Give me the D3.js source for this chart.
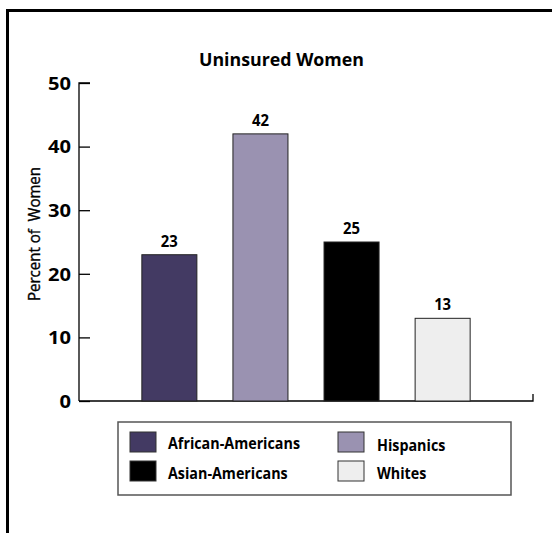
<!DOCTYPE html>
<html>
<head>
<meta charset="utf-8">
<script src="https://cdn.jsdelivr.net/npm/d3@7"></script>
<style>
  html, body { margin: 0; padding: 0; background: #fff; }
  svg { display: block; }
  text { font-family: "Open Sans", "Noto Sans", sans-serif; fill: #000; white-space: pre; }
</style>
</head>
<body>
<svg id="chart" width="552" height="533"></svg>
<script>
// Share of women without health insurance, by group
const categories = ["African-Americans", "Hispanics", "Asian-Americans", "Whites"];
const values = [23, 42, 25, 13];
const colors = ["#433a63", "#9a92b1", "#000000", "#eeeeee"];
const yTicks = [0, 10, 20, 30, 40, 50];
const title = "Uninsured Women";
const yLabel = "Percent of  Women";

const svg = d3.select("#chart");

// Condense a group of labels horizontally: the first label is set to
// `width` px and the rest are narrowed by the same ratio.
function condense(sel, width) {
  const nodes = sel.nodes();
  const k = width / nodes[0].getComputedTextLength();
  nodes.forEach(n => {
    d3.select(n)
      .attr("textLength", n.getComputedTextLength() * k)
      .attr("lengthAdjust", "spacingAndGlyphs");
  });
}

// Outer frame (runs off the right and bottom edges)
svg.append("rect")
  .attr("x", 7.5).attr("y", 10.5)
  .attr("width", 600).attr("height", 600)
  .attr("fill", "none").attr("stroke", "#000").attr("stroke-width", 3);

const x0 = 79, x1 = 533, yTop = 83, yBase = 401;

const y = d3.scaleLinear().domain([0, 50]).range([yBase, yTop]);
const x = d3.scaleBand().domain(categories).range([x0, x1])
  .paddingInner(0.396).paddingOuter(0.69);

// Title
svg.append("text")
  .attr("x", 281.5).attr("y", 66)
  .attr("text-anchor", "middle")
  .attr("font-size", 18).attr("font-weight", 700)
  .text(title).call(condense, 165);

// Y axis with ticks pointing into the plot
const yAxis = d3.axisRight(y).tickValues(yTicks).tickSize(11).tickFormat("");
const gy = svg.append("g").attr("transform", `translate(${x0},0)`).call(yAxis);
gy.select(".domain").attr("d", `M11,${yTop}H0V${yBase}`).attr("stroke", "#000").attr("stroke-width", 1.3);
gy.selectAll(".tick line").attr("stroke", "#000").attr("stroke-width", 1.3);

// Tick labels
svg.append("g").selectAll("text").data(yTicks.slice().reverse()).join("text")
  .attr("x", 71).attr("y", d => y(d))
  .attr("dy", "0.37em")
  .attr("text-anchor", "end")
  .attr("font-size", 18.5).attr("font-weight", 700)
  .text(d => d).call(condense, 23);

// Baseline with small end tick
svg.append("path")
  .attr("d", `M${x0},${yBase}H${x1}V${yBase - 7}`)
  .attr("fill", "none").attr("stroke", "#000").attr("stroke-width", 1.3);

// Y axis title (medium weight, slightly emboldened regular face)
svg.append("text")
  .attr("transform", `translate(40,234) rotate(-90)`)
  .attr("text-anchor", "middle")
  .attr("font-size", 15.5).attr("font-weight", 400)
  .attr("stroke", "#000").attr("stroke-width", 0.35)
  .text(yLabel).call(condense, 134);

// Bars
svg.append("g").selectAll("rect").data(values).join("rect")
  .attr("x", (d, i) => x(categories[i]))
  .attr("y", d => y(d))
  .attr("width", x.bandwidth())
  .attr("height", d => yBase - y(d))
  .attr("fill", (d, i) => colors[i])
  .attr("stroke", "#222").attr("stroke-width", 1);

// Value labels
svg.append("g").selectAll("text").data(values).join("text")
  .attr("x", (d, i) => x(categories[i]) + x.bandwidth() / 2)
  .attr("y", d => y(d) - 8)
  .attr("text-anchor", "middle")
  .attr("font-size", 15.5).attr("font-weight", 700)
  .text(d => d).call(condense, 17);

// Legend
const lg = svg.append("g");
lg.append("rect")
  .attr("x", 118).attr("y", 422).attr("width", 393).attr("height", 73)
  .attr("fill", "#fff").attr("stroke", "#555").attr("stroke-width", 1.5);

const legendPos = [
  { sx: 130, sy: 432, tx: 168, ty: 449 },
  { sx: 338, sy: 432, tx: 377, ty: 451 },
  { sx: 130, sy: 461, tx: 168, ty: 479 },
  { sx: 338, sy: 461, tx: 377, ty: 479 }
];
const items = lg.selectAll("g.item").data(categories).join("g").attr("class", "item");
items.append("rect")
  .attr("x", (d, i) => legendPos[i].sx).attr("y", (d, i) => legendPos[i].sy)
  .attr("width", 26).attr("height", 20)
  .attr("fill", (d, i) => colors[i])
  .attr("stroke", "#333").attr("stroke-width", 1);
items.append("text")
  .attr("x", (d, i) => legendPos[i].tx).attr("y", (d, i) => legendPos[i].ty)
  .attr("font-size", 16).attr("font-weight", 700)
  .text(d => d);
items.selectAll("text").call(condense, 132);
</script>
</body>
</html>
